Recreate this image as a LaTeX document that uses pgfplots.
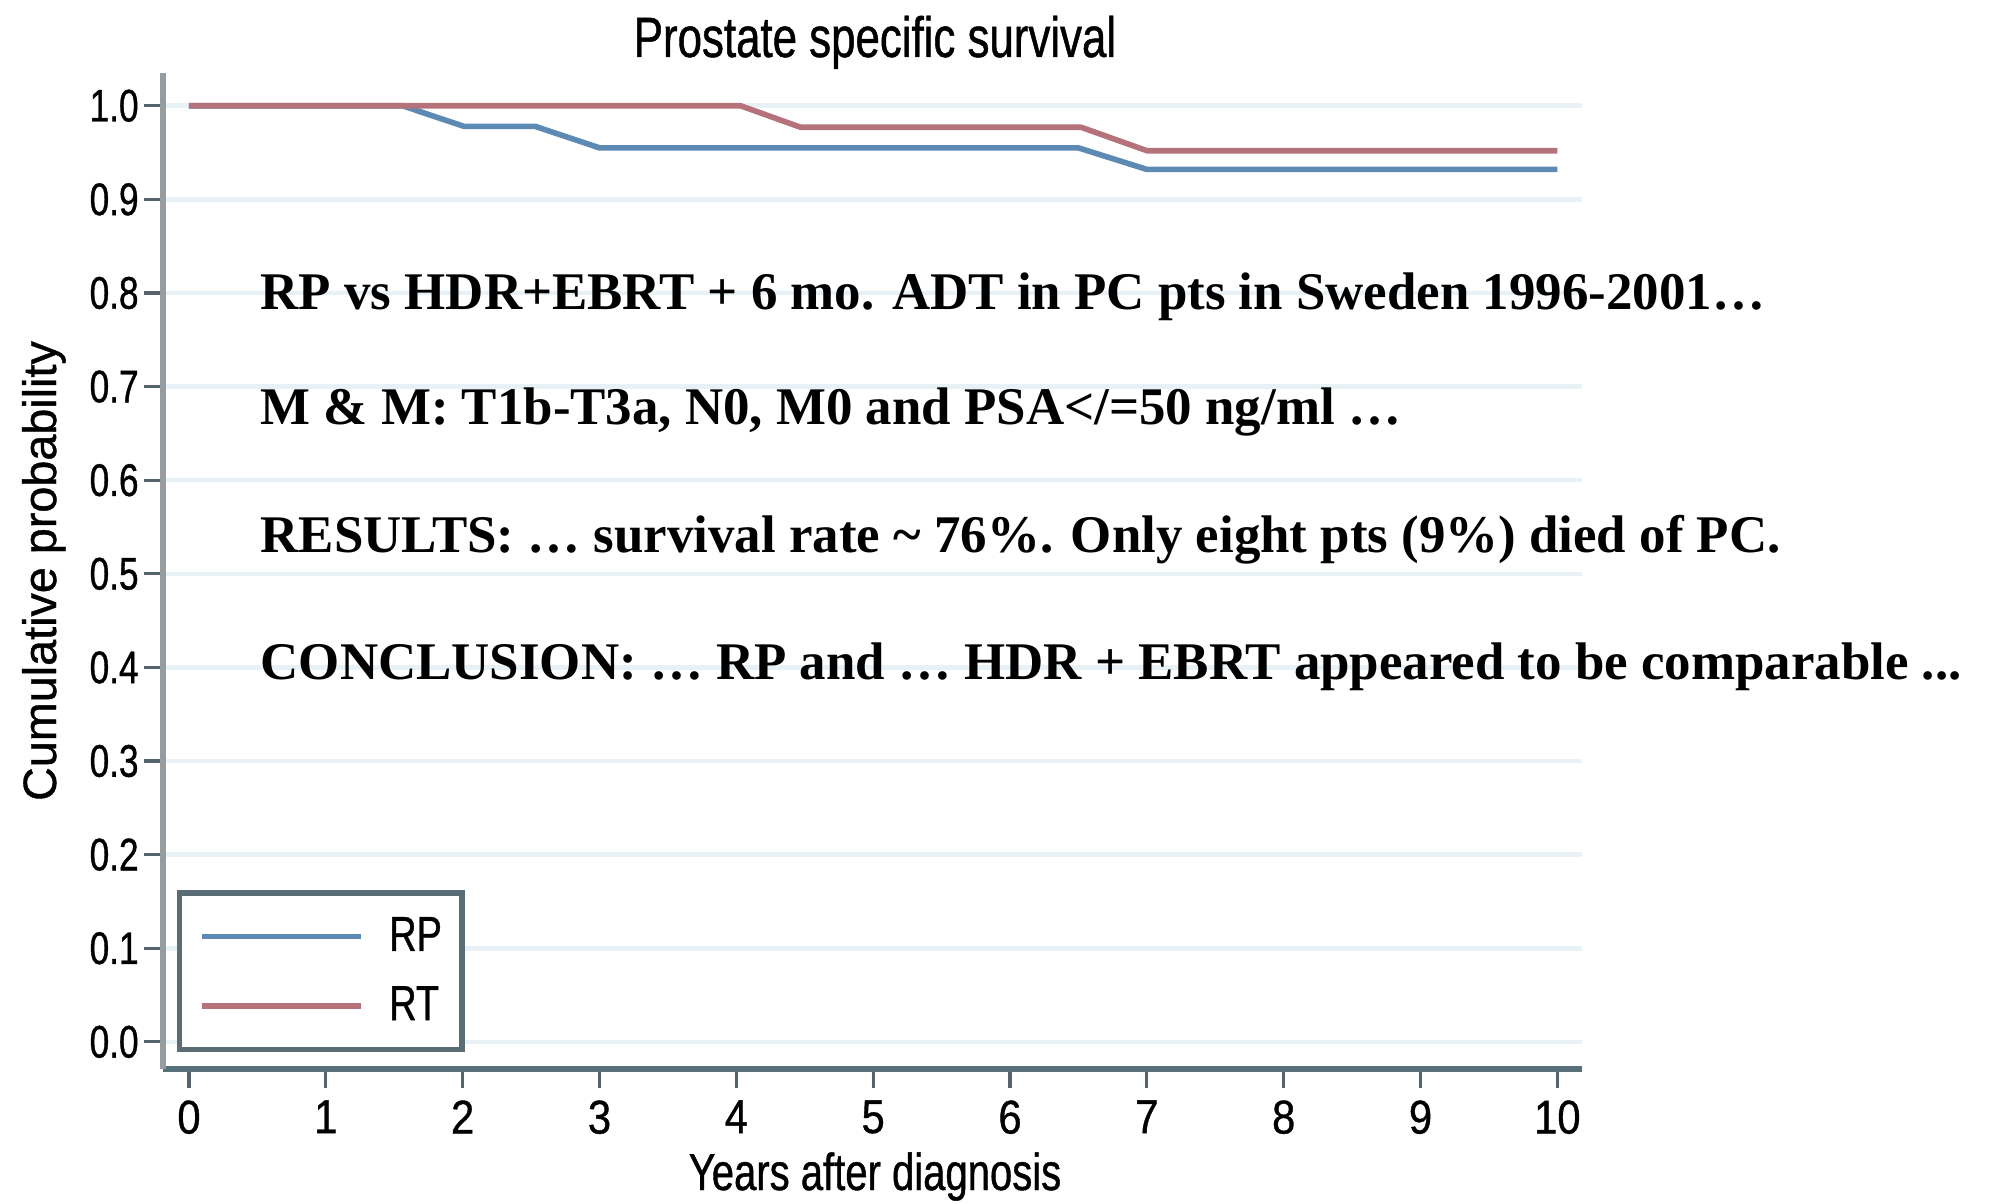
\documentclass[border=0pt]{standalone}
\usepackage{pgfplots}
\pgfplotsset{compat=1.18}
\usepackage{fontspec}
\setmainfont{Liberation Serif}
\newfontfamily\cfont[FakeStretch=0.77,FakeBold=0.8]{Liberation Sans}
\newfontfamily\xfont[FakeStretch=0.88,FakeBold=0.8]{Liberation Sans}
\newfontfamily\rfont[FakeBold=0.8]{Liberation Sans}
\definecolor{rpblue}{RGB}{92,138,180}
\definecolor{rtred}{RGB}{182,114,122}
\definecolor{gridc}{RGB}{232,241,245}
\definecolor{xaxc}{RGB}{88,112,122}
\definecolor{yaxc}{RGB}{150,156,160}
\definecolor{tickc}{RGB}{85,100,108}
\definecolor{legc}{RGB}{90,108,118}
\begin{document}
\begin{tikzpicture}[x=0.1mm,y=0.1mm]
\path[use as bounding box] (0,0) rectangle (1991,1203);
\begin{axis}[
  at={(16.3mm,13.4mm)}, anchor=south west,
  scale only axis, width=141.9mm, height=99.6mm,
  xmin=-0.19, xmax=10.18, ymin=-0.029, ymax=1.035,
  axis x line*=bottom, axis y line*=left,
  x axis line style={-, line width=1.6pt, color=xaxc},
  y axis line style={-, line width=1.8pt, color=yaxc},
  xtick={0,1,2,3,4,5,6,7,8,9,10},
  ytick={0,0.1,0.2,0.3,0.4,0.5,0.6,0.7,0.8,0.9,1.0},
  yticklabel style={/pgf/number format/fixed, /pgf/number format/fixed zerofill, /pgf/number format/precision=1, xshift=0.7mm},
  /pgf/number format/assume math mode=true,
  tick align=outside, major tick length=1.9mm,
  tick style={line width=0.9pt, color=tickc},
  ymajorgrids, grid style={line width=1.3pt, color=gridc},
  yticklabel style={font=\fontsize{13}{15}\cfont, text=black},
  xticklabel style={font=\fontsize{13.5}{15}\xfont, text=black},
  clip=false,
  legend cell align=left,
  legend image code/.code={\draw[#1] (0mm,0mm) -- (15.9mm,0mm);},
  legend style={at={(0.00987,0.0171)}, anchor=south west, draw=legc, line width=1.5pt,
    font=\fontsize{14}{16}\cfont, nodes={inner sep=0pt}, inner xsep=2mm, inner ysep=2.4mm,
    row sep=3.0mm, column sep=2.5mm},
]
\addplot[rpblue, line width=1.6pt] coordinates {
  (0,1) (1.56,1) (2.01,0.978) (2.53,0.978) (3.0,0.955) (6.5,0.955) (7.0,0.932) (10,0.932)};
\addlegendentry{RP}
\addplot[rtred, line width=1.6pt] coordinates {
  (0,1) (4.03,1) (4.47,0.977) (6.52,0.977) (7.0,0.952) (10,0.952)};
\addlegendentry{RT}
\end{axis}
\node[anchor=base, font=\fontsize{16.2}{19}\cfont] at (875,1146) {Prostate specific survival};
\node[anchor=base, font=\fontsize{14.8}{17}\cfont] at (875,13) {Years after diagnosis};
\node[rotate=90, anchor=base, font=\fontsize{13.3}{16}\rfont] at (56,632) {Cumulative probability};
\begin{scope}[every node/.style={anchor=base west, font=\fontsize{15.05}{18}\selectfont\bfseries, inner sep=0pt}]
\node at (260,893) {RP vs HDR+EBRT + 6 mo. ADT in PC pts in Sweden 1996-2001…};
\node at (260,778) {M \& M: T1b-T3a, N0, M0 and PSA</=50 ng/ml …};
\node at (260,650) {RESULTS: … survival rate \textasciitilde{} 76\%. Only eight pts (9\%) died of PC.};
\node at (260,523) {CONCLUSION: … RP and … HDR + EBRT appeared to be comparable ...};
\end{scope}
\end{tikzpicture}
\end{document}
